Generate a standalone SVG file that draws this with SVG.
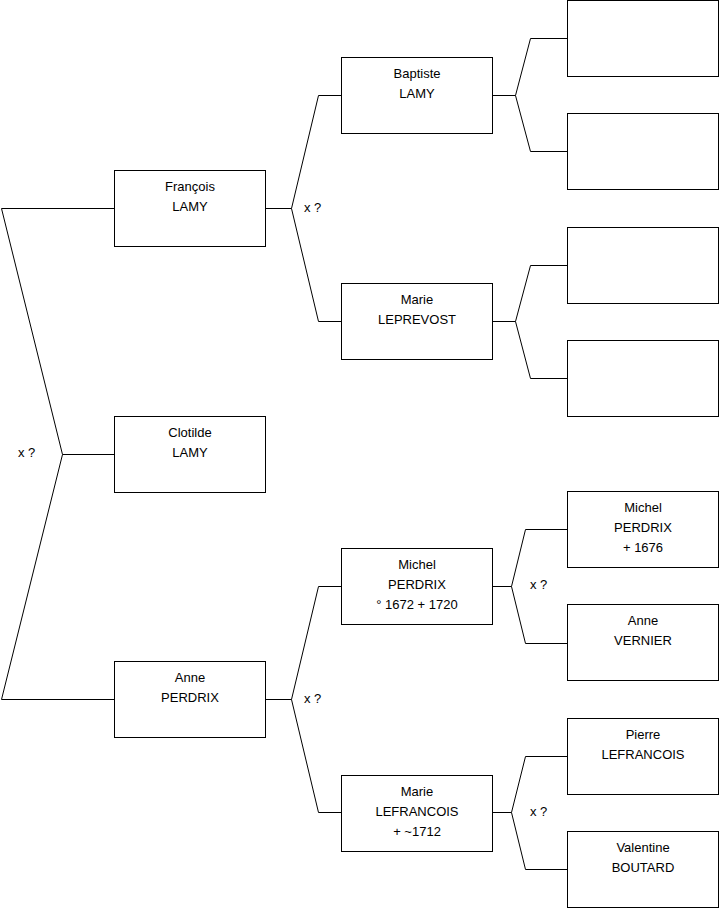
<svg xmlns="http://www.w3.org/2000/svg" width="719" height="908" viewBox="0 0 719 908">
<style>
.box{fill:#fff;stroke:#000;stroke-width:1}
.c{fill:none;stroke:#000;stroke-width:1}
text{font-family:"Liberation Sans",Arial,sans-serif;font-size:13px;fill:#000}
.t{text-anchor:middle}
</style>
<rect width="719" height="908" fill="#fff"/>
<g id="connectors">
<polyline class="c" points="114,208.5 1.5,208.5 62.5,454.5 1.5,699.5 114,699.5"/>
<line class="c" x1="62.5" y1="454.5" x2="114" y2="454.5"/>
<text x="18" y="457">x ?</text>
<polyline class="c" points="341,95.5 318.5,95.5 291.5,208.5 318.5,321.5 341,321.5"/>
<line class="c" x1="265" y1="208.5" x2="291.5" y2="208.5"/>
<text x="304" y="212">x ?</text>
<polyline class="c" points="341,586.5 318.5,586.5 291.5,699.5 318.5,812.5 341,812.5"/>
<line class="c" x1="265" y1="699.5" x2="291.5" y2="699.5"/>
<text x="304" y="703">x ?</text>
<polyline class="c" points="567,38.5 530.5,38.5 515.5,95.5 530.5,151.5 567,151.5"/>
<line class="c" x1="492" y1="95.5" x2="515.5" y2="95.5"/>
<polyline class="c" points="567,265.5 530.5,265.5 515.5,321.5 530.5,378.5 567,378.5"/>
<line class="c" x1="492" y1="321.5" x2="515.5" y2="321.5"/>
<polyline class="c" points="567,529.5 525.5,529.5 511.5,586.5 525.5,643.5 567,643.5"/>
<line class="c" x1="492" y1="586.5" x2="511.5" y2="586.5"/>
<text x="530" y="589">x ?</text>
<polyline class="c" points="567,756.5 525.5,756.5 511.5,812.5 525.5,869.5 567,869.5"/>
<line class="c" x1="492" y1="812.5" x2="511.5" y2="812.5"/>
<text x="530" y="816">x ?</text>
</g>
<g id="francois"><rect class="box" x="114.5" y="170.5" width="151" height="76"/><text class="t" x="190" y="191">François</text><text class="t" x="190" y="211">LAMY</text></g>
<g id="clotilde"><rect class="box" x="114.5" y="416.5" width="151" height="76"/><text class="t" x="190" y="437">Clotilde</text><text class="t" x="190" y="457">LAMY</text></g>
<g id="anne"><rect class="box" x="114.5" y="661.5" width="151" height="76"/><text class="t" x="190" y="682">Anne</text><text class="t" x="190" y="702">PERDRIX</text></g>
<g id="baptiste"><rect class="box" x="341.5" y="57.5" width="151" height="76"/><text class="t" x="417" y="78">Baptiste</text><text class="t" x="417" y="98">LAMY</text></g>
<g id="marie-leprevost"><rect class="box" x="341.5" y="283.5" width="151" height="76"/><text class="t" x="417" y="304">Marie</text><text class="t" x="417" y="324">LEPREVOST</text></g>
<g id="michel-1672"><rect class="box" x="341.5" y="548.5" width="151" height="76"/><text class="t" x="417" y="569">Michel</text><text class="t" x="417" y="589">PERDRIX</text><text class="t" x="417" y="609">° 1672 + 1720</text></g>
<g id="marie-lefrancois"><rect class="box" x="341.5" y="775.5" width="151" height="76"/><text class="t" x="417" y="796">Marie</text><text class="t" x="417" y="816">LEFRANCOIS</text><text class="t" x="417" y="836">+ ~1712</text></g>
<g id="unknown1"><rect class="box" x="567.5" y="0.5" width="151" height="76"/></g>
<g id="unknown2"><rect class="box" x="567.5" y="113.5" width="151" height="76"/></g>
<g id="unknown3"><rect class="box" x="567.5" y="227.5" width="151" height="76"/></g>
<g id="unknown4"><rect class="box" x="567.5" y="340.5" width="151" height="76"/></g>
<g id="michel-1676"><rect class="box" x="567.5" y="491.5" width="151" height="76"/><text class="t" x="643" y="512">Michel</text><text class="t" x="643" y="532">PERDRIX</text><text class="t" x="643" y="552">+ 1676</text></g>
<g id="anne-vernier"><rect class="box" x="567.5" y="604.5" width="151" height="76"/><text class="t" x="643" y="625">Anne</text><text class="t" x="643" y="645">VERNIER</text></g>
<g id="pierre-lefrancois"><rect class="box" x="567.5" y="718.5" width="151" height="76"/><text class="t" x="643" y="739">Pierre</text><text class="t" x="643" y="759">LEFRANCOIS</text></g>
<g id="valentine-boutard"><rect class="box" x="567.5" y="831.5" width="151" height="76"/><text class="t" x="643" y="852">Valentine</text><text class="t" x="643" y="872">BOUTARD</text></g>
</svg>
